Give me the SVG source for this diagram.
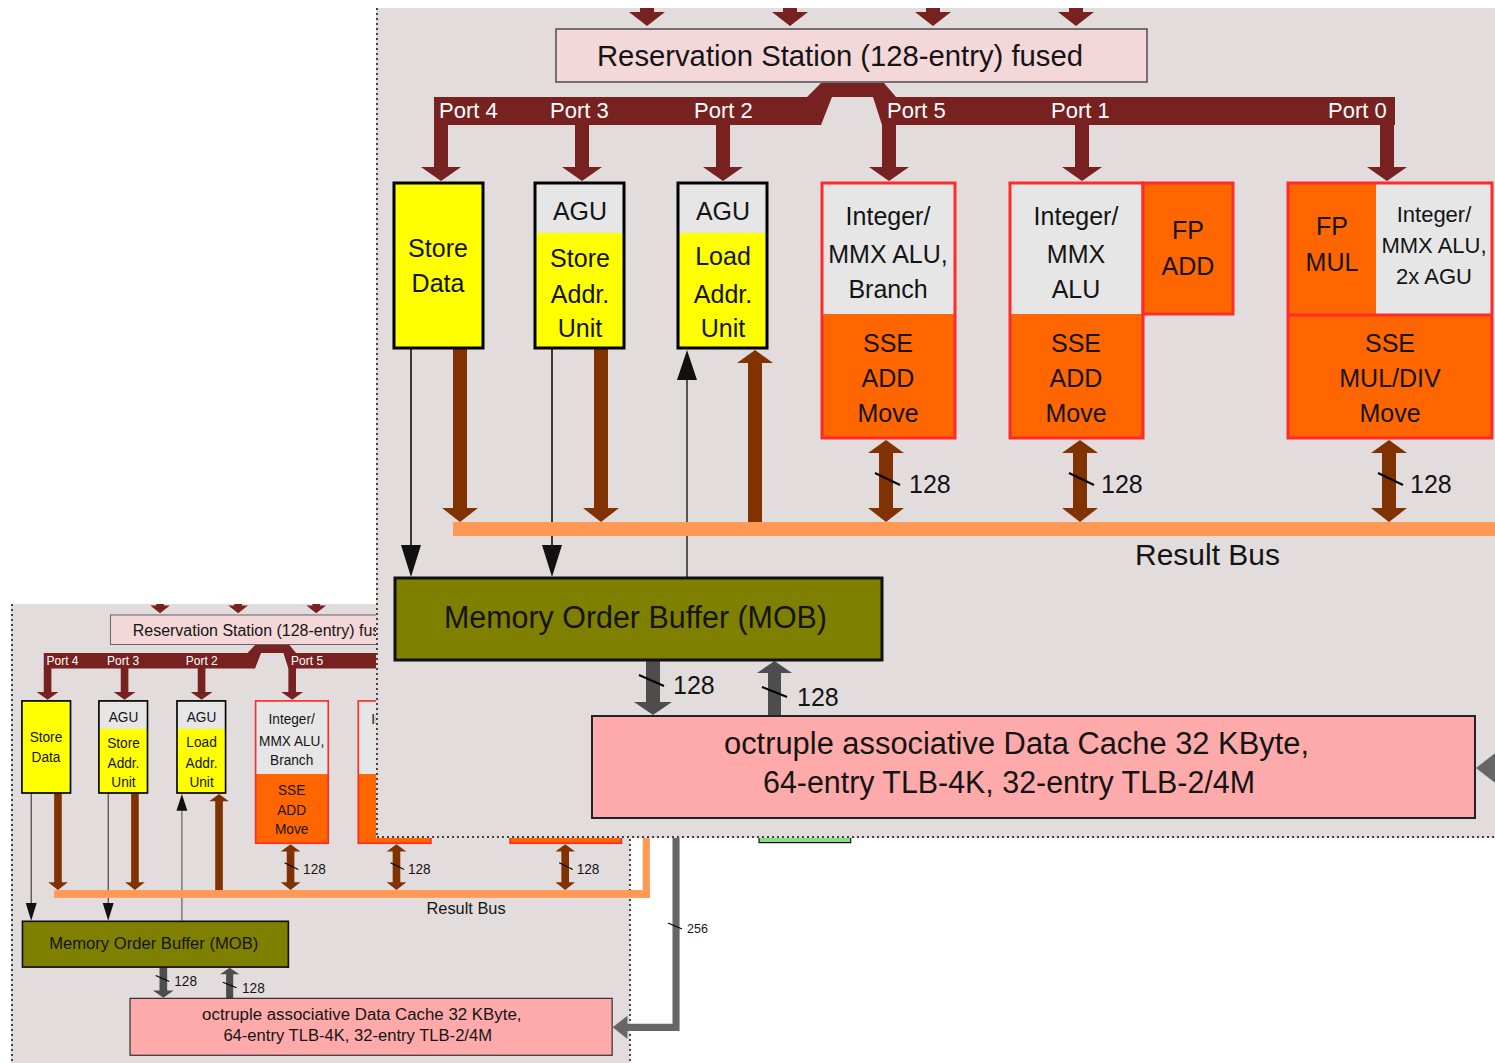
<svg xmlns="http://www.w3.org/2000/svg" width="1495" height="1063" viewBox="0 0 1495 1063">
<defs>
<style>
.bg{fill:#e3dcdd}
.port{fill:#782121}
.brown{fill:#803300}
.rbus{fill:#ff9955}
.t{font-family:"Liberation Sans",Arial,sans-serif;fill:#141414;text-anchor:middle;font-size:25px}
.ts{text-anchor:start}
.pl{fill:#ffffff;font-size:22px;text-anchor:start}
.yel{fill:#ffff00}
.gry{fill:#e6e6e6}
.org{fill:#ff6600}
.bk{fill:none;stroke:#000;stroke-width:3}
.rd{fill:none;stroke:#ff2a2a;stroke-width:3}
.thin{stroke:#000;stroke-width:1.5;fill:none}
.thing{stroke:#555;stroke-width:2;fill:none}
.dg{fill:#4d4d4d}
.mg{fill:#666666}
.slash{stroke:#000;stroke-width:2}
.dots{stroke:#444;stroke-width:2;stroke-dasharray:2 3;fill:none}
</style>
<clipPath id="clipSmall"><rect x="11" y="604" width="1484" height="459"/></clipPath>
<clipPath id="clipBig"><rect x="376" y="8" width="1119" height="830"/></clipPath>
</defs>
<rect x="0" y="0" width="1495" height="1063" fill="#ffffff"/>
<!-- small view panel -->
<rect x="11" y="604" width="619" height="459" class="bg"/>
<line x1="12" y1="604" x2="12" y2="1063" class="dots"/>
<line x1="630" y1="604" x2="630" y2="1063" class="dots"/>
<g clip-path="url(#clipSmall)">
<use href="#diagram" transform="matrix(0.546,0,0,0.558,-193.2,598.8)"/>
</g>
<g id="bus-256-label">
<line x1="668" y1="923" x2="682" y2="929" stroke="#000" stroke-width="1.2"/>
<text class="t ts" x="687" y="933" style="font-size:12.5px">256</text>
</g>
<!-- magnified overlay -->
<g clip-path="url(#clipBig)">
<rect x="376" y="8" width="1119" height="830" class="bg"/>
<g id="diagram">
<g id="connectors">
<polygon class="port" points="640,-20 654,-20 654,12 665,12 647,26 629,12 640,12"/>
<polygon class="port" points="783,-20 797,-20 797,12 808,12 790,26 772,12 783,12"/>
<polygon class="port" points="926,-20 940,-20 940,12 951,12 933,26 915,12 926,12"/>
<polygon class="port" points="1069,-20 1083,-20 1083,12 1094,12 1076,26 1058,12 1069,12"/>
<path class="port" d="M434,97 H807 L821,83 H884 L896,97 H1395 V125 H882 L873,97 H832 L821,125 H434 Z"/>
<polygon class="port" points="434,124 448,124 448,167 461,167 441,181 421,167 434,167"/>
<polygon class="port" points="575,124 589,124 589,167 602,167 582,181 562,167 575,167"/>
<polygon class="port" points="716,124 730,124 730,167 743,167 723,181 703,167 716,167"/>
<polygon class="port" points="882,124 896,124 896,167 909,167 889,181 869,167 882,167"/>
<polygon class="port" points="1075,124 1089,124 1089,167 1102,167 1082,181 1062,167 1075,167"/>
<polygon class="port" points="1380,124 1394,124 1394,167 1407,167 1387,181 1367,167 1380,167"/>
<text class="t pl" x="439" y="118">Port 4</text>
<text class="t pl" x="550" y="118">Port 3</text>
<text class="t pl" x="694" y="118">Port 2</text>
<text class="t pl" x="887" y="118">Port 5</text>
<text class="t pl" x="1051" y="118">Port 1</text>
<text class="t pl" x="1328" y="118">Port 0</text>
<line x1="411" y1="349" x2="411" y2="548" class="thin"/>
<polygon points="401,545 421,545 411,577" fill="#111"/>
<line x1="552" y1="349" x2="552" y2="548" class="thin"/>
<polygon points="542,545 562,545 552,577" fill="#111"/>
<line x1="687" y1="577" x2="687" y2="378" class="thing"/>
<polygon points="677,380 697,380 687,350" fill="#111"/>
<rect x="453" y="522" width="1091" height="14" class="rbus"/>
<rect x="1531" y="300" width="13" height="236" class="rbus"/>
<polygon class="brown" points="453,349 467,349 467,508 478,508 460,522 442,508 453,508"/>
<polygon class="brown" points="594,349 608,349 608,508 619,508 601,522 583,508 594,508"/>
<polygon class="brown" points="748,522 762,522 762,363 773,363 755,350 737,363 748,363"/>
<polygon class="brown" points="879,453 879,508 868,508 886,522 904,508 893,508 893,453 904,453 886,440 868,453"/>
<polygon class="brown" points="1073,453 1073,508 1062,508 1080,522 1098,508 1087,508 1087,453 1098,453 1080,440 1062,453"/>
<polygon class="brown" points="1382,453 1382,508 1371,508 1389,522 1407,508 1396,508 1396,453 1407,453 1389,440 1371,453"/>
<line x1="875" y1="473" x2="900" y2="485" class="slash"/>
<line x1="1069" y1="473" x2="1094" y2="485" class="slash"/>
<line x1="1378" y1="473" x2="1403" y2="485" class="slash"/>
<text class="t ts" x="909" y="493" font-size="24">128</text>
<text class="t ts" x="1101" y="493" font-size="24">128</text>
<text class="t ts" x="1410" y="493" font-size="24">128</text>
<text class="t ts" x="1135" y="565" style="font-size:30px" textLength="145" lengthAdjust="spacingAndGlyphs">Result Bus</text>
<polygon class="dg" points="646,660 660,660 660,702 672,702 653,715 634,702 646,702"/>
<polygon class="dg" points="768,716 781,716 781,673 792,673 774.5,661 757,673 768,673"/>
<line x1="639" y1="675" x2="664" y2="686" class="slash"/>
<line x1="762" y1="687" x2="787" y2="697" class="slash"/>
<text class="t ts" x="673" y="694" font-size="24">128</text>
<text class="t ts" x="797" y="706" font-size="24">128</text>
<path d="M1592,300 V768 H1500" stroke="#666666" stroke-width="13" fill="none"/>
<polygon class="mg" points="1476,768 1503,747 1503,789"/>
</g>
<g id="rs">
<rect x="556" y="29" width="591" height="53" fill="#f4d7d8" stroke="#4d4d4d" stroke-width="1.5"/>
<text class="t ts" x="597" y="66" style="font-size:29px" textLength="486" lengthAdjust="spacingAndGlyphs">Reservation Station (128-entry) fused</text>
</g>
<g id="store-data">
<rect x="394" y="183" width="89" height="165" class="yel"/>
<rect x="394" y="183" width="89" height="165" class="bk"/>
<text class="t" x="438" y="257">Store</text>
<text class="t" x="438" y="292">Data</text>
</g>
<g id="store-addr">
<rect x="535" y="183" width="89" height="165" class="yel"/>
<rect x="535" y="183" width="89" height="50" class="gry"/>
<rect x="535" y="183" width="89" height="165" class="bk"/>
<text class="t" x="580" y="220">AGU</text>
<text class="t" x="580" y="267">Store</text>
<text class="t" x="580" y="303">Addr.</text>
<text class="t" x="580" y="337">Unit</text>
</g>
<g id="load-addr">
<rect x="678" y="183" width="89" height="165" class="yel"/>
<rect x="678" y="183" width="89" height="50" class="gry"/>
<rect x="678" y="183" width="89" height="165" class="bk"/>
<text class="t" x="723" y="220">AGU</text>
<text class="t" x="723" y="265">Load</text>
<text class="t" x="723" y="303">Addr.</text>
<text class="t" x="723" y="337">Unit</text>
</g>
<g id="port5-unit">
<rect x="822" y="183" width="133" height="255" class="org"/>
<rect x="822" y="183" width="133" height="131" class="gry"/>
<rect x="822" y="183" width="133" height="255" class="rd"/>
<text class="t" x="888" y="225">Integer/</text>
<text class="t" x="888" y="263">MMX ALU,</text>
<text class="t" x="888" y="298">Branch</text>
<text class="t" x="888" y="352">SSE</text>
<text class="t" x="888" y="387">ADD</text>
<text class="t" x="888" y="422">Move</text>
</g>
<g id="port1-unit">
<rect x="1010" y="183" width="133" height="255" class="org"/>
<rect x="1010" y="183" width="133" height="131" class="gry"/>
<rect x="1010" y="183" width="133" height="255" class="rd"/>
<text class="t" x="1076" y="225">Integer/</text>
<text class="t" x="1076" y="263">MMX</text>
<text class="t" x="1076" y="298">ALU</text>
<text class="t" x="1076" y="352">SSE</text>
<text class="t" x="1076" y="387">ADD</text>
<text class="t" x="1076" y="422">Move</text>
</g>
<g id="fp-add">
<rect x="1143" y="183" width="90" height="131" class="org"/>
<rect x="1143" y="183" width="90" height="131" class="rd"/>
<text class="t" x="1188" y="239">FP</text>
<text class="t" x="1188" y="275">ADD</text>
</g>
<g id="port0-unit">
<rect x="1288" y="183" width="204" height="255" class="org"/>
<rect x="1376" y="183" width="116" height="132" class="gry"/>
<rect x="1288" y="183" width="204" height="255" class="rd"/>
<line x1="1288" y1="315" x2="1492" y2="315" class="rd"/>
<text class="t" x="1332" y="235">FP</text>
<text class="t" x="1332" y="271">MUL</text>
<text class="t" x="1434" y="222" style="font-size:22px">Integer/</text>
<text class="t" x="1434" y="253" style="font-size:22px">MMX ALU,</text>
<text class="t" x="1434" y="284" style="font-size:22px">2x AGU</text>
<text class="t" x="1390" y="352">SSE</text>
<text class="t" x="1390" y="387">MUL/DIV</text>
<text class="t" x="1390" y="422">Move</text>
</g>
<g id="mob">
<rect x="395" y="578" width="487" height="82" fill="#808000" stroke="#111" stroke-width="3"/>
<text class="t ts" x="444" y="628" style="font-size:31px" textLength="383" lengthAdjust="spacingAndGlyphs">Memory Order Buffer (MOB)</text>
</g>
<g id="data-cache">
<rect x="592" y="716" width="883" height="102" fill="#ffaaaa" stroke="#222" stroke-width="2"/>
<text class="t ts" x="724" y="754" style="font-size:31px" textLength="585" lengthAdjust="spacingAndGlyphs">octruple associative Data Cache 32 KByte,</text>
<text class="t ts" x="763" y="793" style="font-size:31px" textLength="492" lengthAdjust="spacingAndGlyphs">64-entry TLB-4K, 32-entry TLB-2/4M</text>
</g>
<g id="green-unit">
<rect x="1744" y="300" width="168" height="137" fill="#87de87" stroke="#000" stroke-width="2"/>
</g>
</g>
</g>
<line x1="377" y1="8" x2="377" y2="838" class="dots"/>
<line x1="377" y1="837" x2="1495" y2="837" class="dots"/>
</svg>
